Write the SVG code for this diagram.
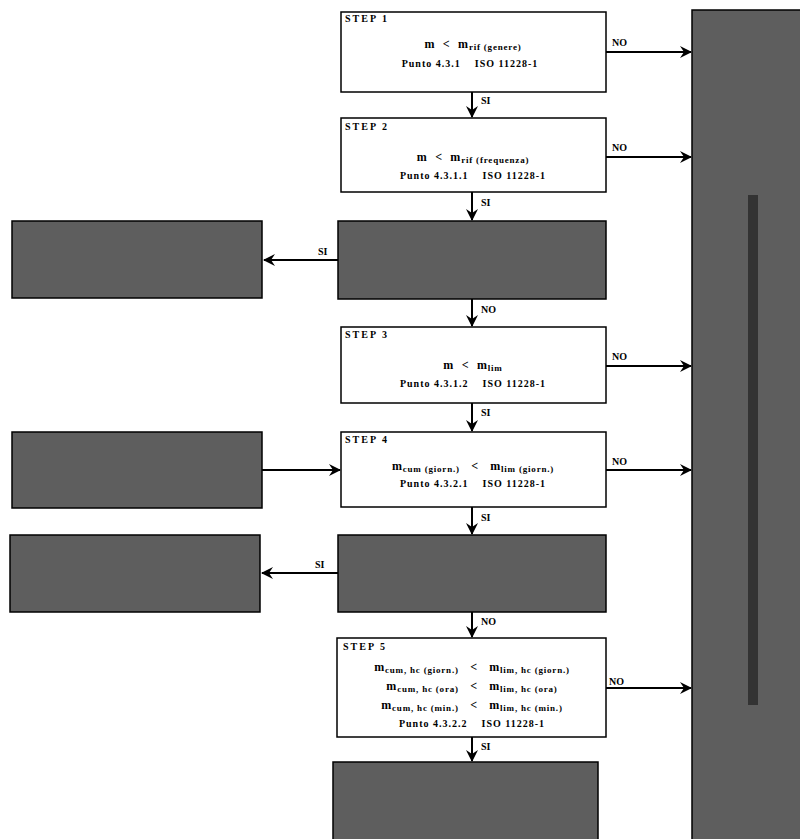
<svg xmlns="http://www.w3.org/2000/svg" width="800" height="839" viewBox="0 0 800 839">
<style>
.box{fill:#fff;stroke:#000;stroke-width:1.5}
.grey{fill:#5e5e5e;stroke:#000;stroke-width:1.5}
.ln{stroke:#000;stroke-width:2;fill:none}
.step{font-family:"Liberation Serif",serif;font-size:10px;font-weight:bold;letter-spacing:2px}
.main{font-family:"Liberation Serif",serif;font-size:12px;font-weight:bold;text-anchor:middle;letter-spacing:0.8px;white-space:pre}
.pt{font-family:"Liberation Serif",serif;font-size:10px;font-weight:bold;text-anchor:middle;letter-spacing:1px;white-space:pre}
.lbl{font-family:"Liberation Serif",serif;font-size:10px;font-weight:bold}
.sub{font-size:9px}
</style>
<defs>
<marker id="ah" viewBox="0 0 12 12" refX="11" refY="6" markerWidth="12" markerHeight="12" markerUnits="userSpaceOnUse" orient="auto">
<path d="M0,0 L12,6 L0,12 L4,6 Z" fill="#000"/>
</marker>
</defs>
<g id="connectors">
<line class="ln" x1="472" y1="92" x2="472" y2="117" marker-end="url(#ah)"/>
<line class="ln" x1="472" y1="192" x2="472" y2="220" marker-end="url(#ah)"/>
<line class="ln" x1="472" y1="299" x2="472" y2="326" marker-end="url(#ah)"/>
<line class="ln" x1="472" y1="403" x2="472" y2="431" marker-end="url(#ah)"/>
<line class="ln" x1="472" y1="507" x2="472" y2="534" marker-end="url(#ah)"/>
<line class="ln" x1="472" y1="612" x2="472" y2="637" marker-end="url(#ah)"/>
<line class="ln" x1="472" y1="737" x2="472" y2="761" marker-end="url(#ah)"/>
<line class="ln" x1="606" y1="52" x2="691" y2="52" marker-end="url(#ah)"/>
<line class="ln" x1="606" y1="157" x2="691" y2="157" marker-end="url(#ah)"/>
<line class="ln" x1="606" y1="366" x2="691" y2="366" marker-end="url(#ah)"/>
<line class="ln" x1="606" y1="470" x2="691" y2="470" marker-end="url(#ah)"/>
<line class="ln" x1="606" y1="688" x2="691" y2="688" marker-end="url(#ah)"/>
<line class="ln" x1="338" y1="260" x2="264" y2="260" marker-end="url(#ah)"/>
<line class="ln" x1="338" y1="573" x2="262" y2="573" marker-end="url(#ah)"/>
<line class="ln" x1="262" y1="470" x2="340" y2="470" marker-end="url(#ah)"/>
<text class="lbl" x="481" y="104">SI</text>
<text class="lbl" x="481" y="206">SI</text>
<text class="lbl" x="481" y="313">NO</text>
<text class="lbl" x="481" y="416">SI</text>
<text class="lbl" x="481" y="521">SI</text>
<text class="lbl" x="481" y="625">NO</text>
<text class="lbl" x="481" y="750">SI</text>
<text class="lbl" x="612" y="46">NO</text>
<text class="lbl" x="612" y="151">NO</text>
<text class="lbl" x="612" y="360">NO</text>
<text class="lbl" x="612" y="465">NO</text>
<text class="lbl" x="609" y="685">NO</text>
<text class="lbl" x="318" y="255">SI</text>
<text class="lbl" x="315" y="568">SI</text>
</g>
<g id="step1">
<rect class="box" x="341" y="12" width="265" height="80"/>
<text class="step" x="345" y="22">STEP 1</text>
<text class="main" x="473" y="48" xml:space="preserve">m  &lt;  m<tspan class="sub" dy="2">rif (genere)</tspan></text>
<text class="pt" x="470" y="67" xml:space="preserve">Punto 4.3.1    ISO 11228-1</text>
</g>
<g id="step2">
<rect class="box" x="341" y="118" width="265" height="74"/>
<text class="step" x="345" y="130">STEP 2</text>
<text class="main" x="473" y="161" xml:space="preserve">m  &lt;  m<tspan class="sub" dy="2">rif (frequenza)</tspan></text>
<text class="pt" x="473" y="179" xml:space="preserve">Punto 4.3.1.1    ISO 11228-1</text>
</g>
<g id="greyA">
<rect class="grey" x="338" y="221" width="268" height="78"/>
</g>
<g id="leftA">
<rect class="grey" x="12" y="221" width="250" height="77"/>
</g>
<g id="step3">
<rect class="box" x="341" y="327" width="265" height="76"/>
<text class="step" x="345" y="338">STEP 3</text>
<text class="main" x="473" y="369" xml:space="preserve">m  &lt;  m<tspan class="sub" dy="2">lim</tspan></text>
<text class="pt" x="473" y="387" xml:space="preserve">Punto 4.3.1.2    ISO 11228-1</text>
</g>
<g id="leftC">
<rect class="grey" x="12" y="432" width="250" height="76"/>
</g>
<g id="step4">
<rect class="box" x="341" y="432" width="265" height="75"/>
<text class="step" x="345" y="443">STEP 4</text>
<text class="main" x="473" y="470" xml:space="preserve">m<tspan class="sub" dy="2">cum (giorn.)</tspan><tspan dy="-2">   &lt;   m</tspan><tspan class="sub" dy="2">lim (giorn.)</tspan></text>
<text class="pt" x="473" y="487" xml:space="preserve">Punto 4.3.2.1    ISO 11228-1</text>
</g>
<g id="greyB">
<rect class="grey" x="338" y="535" width="268" height="77"/>
</g>
<g id="leftB">
<rect class="grey" x="10" y="535" width="250" height="77"/>
</g>
<g id="step5">
<rect class="box" x="337" y="638" width="269" height="99"/>
<text class="step" x="343" y="650">STEP 5</text>
<text class="main" x="472" y="671" xml:space="preserve">m<tspan class="sub" dy="2">cum, hc (giorn.)</tspan><tspan dy="-2">   &lt;   m</tspan><tspan class="sub" dy="2">lim, hc (giorn.)</tspan></text>
<text class="main" x="472" y="690" xml:space="preserve">m<tspan class="sub" dy="2">cum, hc (ora)</tspan><tspan dy="-2">   &lt;   m</tspan><tspan class="sub" dy="2">lim, hc (ora)</tspan></text>
<text class="main" x="472" y="709" xml:space="preserve">m<tspan class="sub" dy="2">cum, hc (min.)</tspan><tspan dy="-2">   &lt;   m</tspan><tspan class="sub" dy="2">lim, hc (min.)</tspan></text>
<text class="pt" x="472" y="727" xml:space="preserve">Punto 4.3.2.2    ISO 11228-1</text>
</g>
<g id="bottom">
<rect class="grey" x="333" y="762" width="265" height="80"/>
</g>
<g id="right">
<rect class="grey" x="692" y="10" width="110" height="832"/>
<rect x="748" y="195" width="10" height="510" fill="#333"/>
</g>
</svg>
